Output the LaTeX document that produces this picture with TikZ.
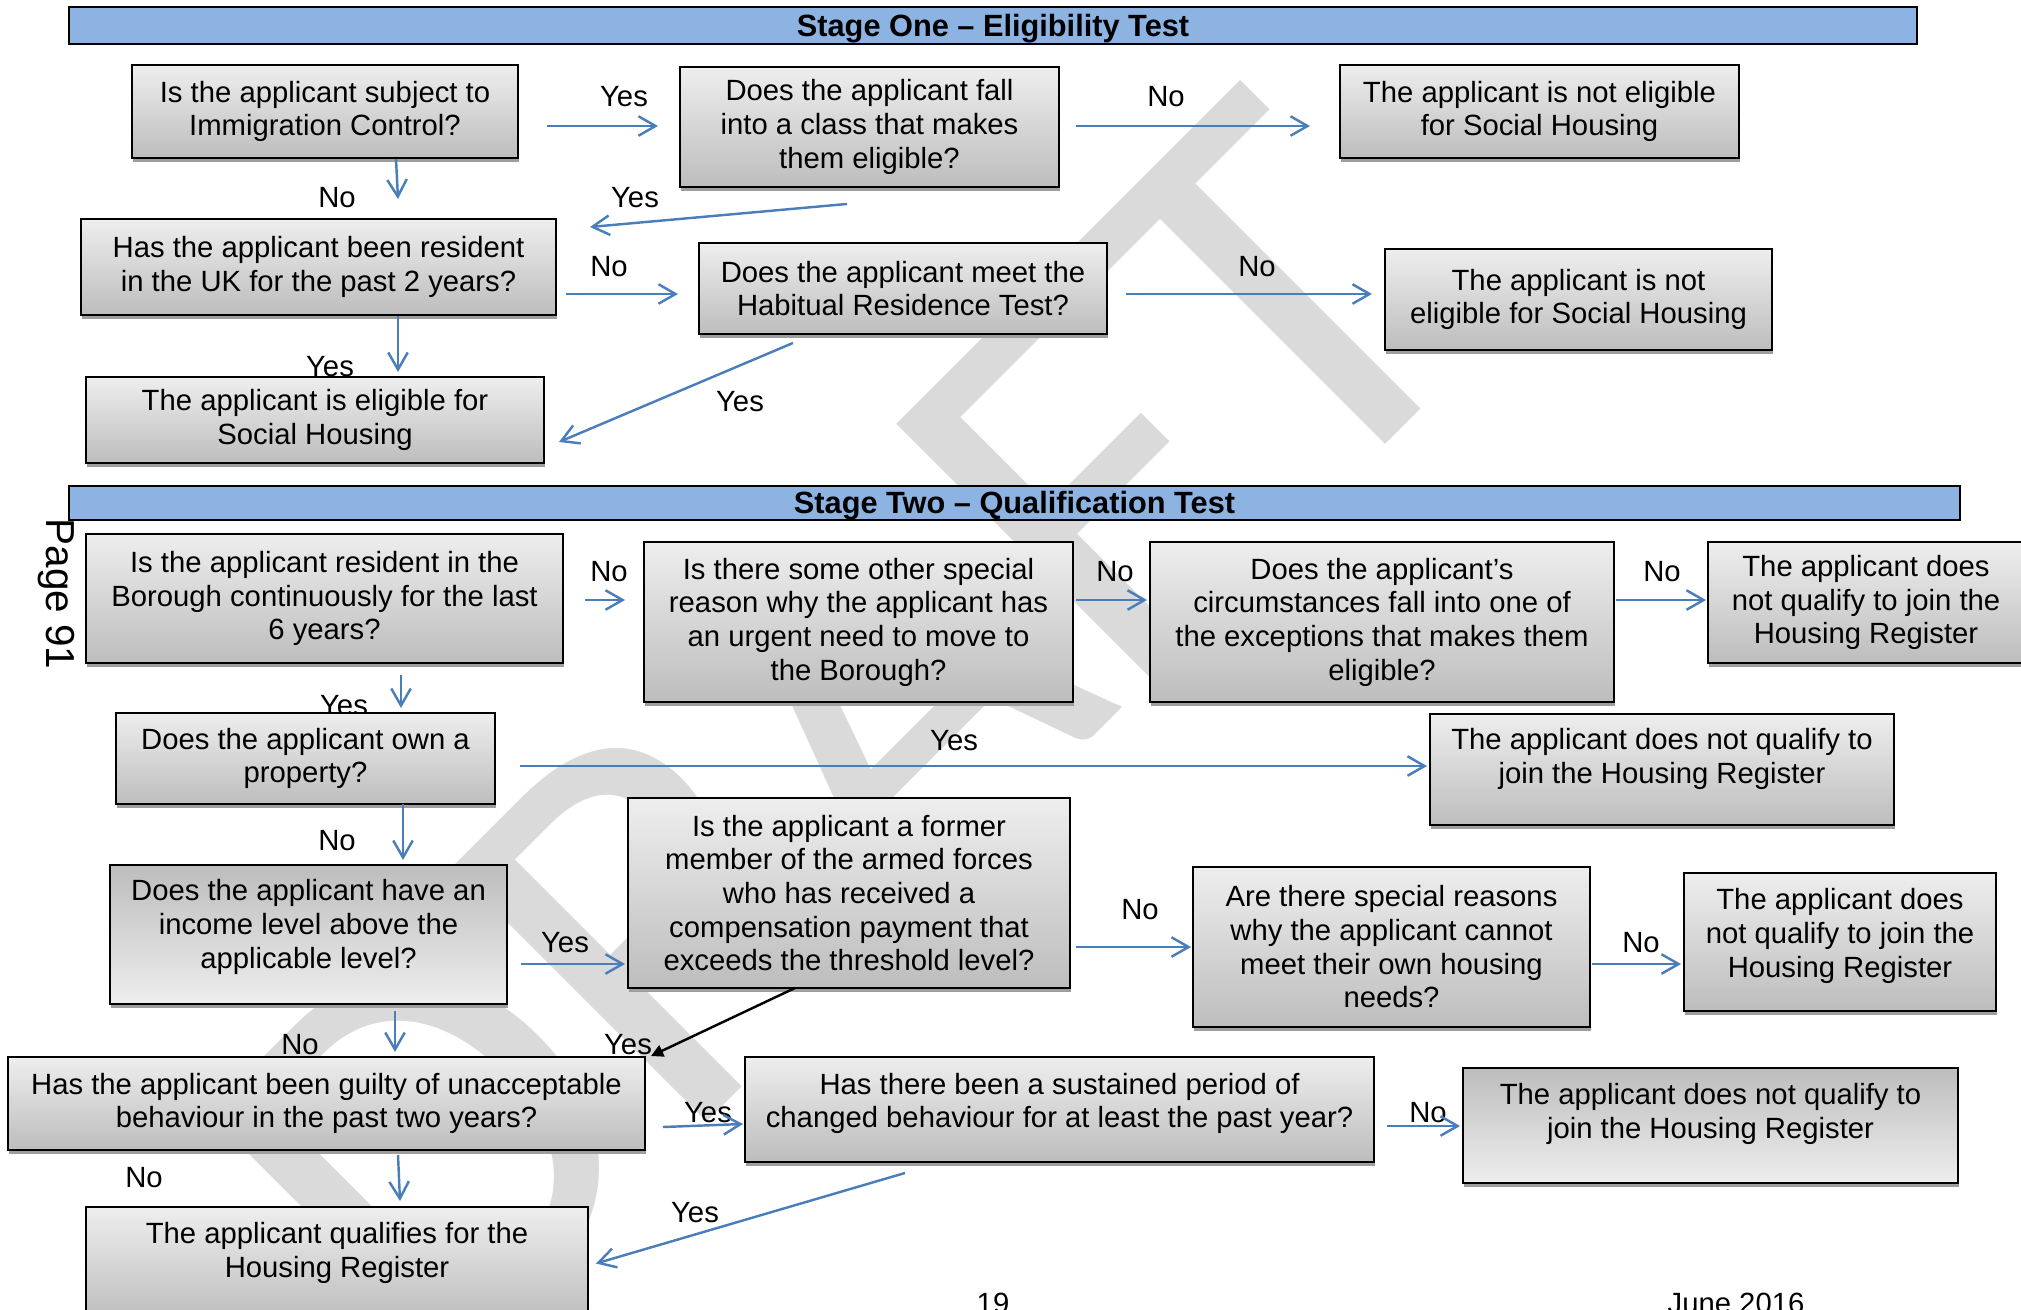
\documentclass[tikz,border=0pt]{standalone}
\usepackage{fontspec}
\setmainfont{Liberation Sans}
\newfontfamily\wmfont{Carlito}
\usepackage{pdfrender}
\usetikzlibrary{arrows.meta,calc,shadows}

\definecolor{boxtop}{HTML}{EEEEEE}
\definecolor{boxbot}{HTML}{BDBDBD}
\definecolor{hdrblue}{HTML}{8DB3E2}
\definecolor{arrblue}{HTML}{4A7EBB}
\definecolor{shade}{HTML}{9E9E9E}
\definecolor{wmgray}{HTML}{DADADA}

\tikzset{
  qbox/.style={draw=black, line width=0.8pt, top color=boxtop, bottom color=boxbot, align=center, inner sep=0pt,
    font=\fontsize{12}{13.8}\selectfont, drop shadow={shadow xshift=0.6pt, shadow yshift=-1.5pt, fill=shade, opacity=1}},
  qflip/.style={top color=boxbot, bottom color=boxtop},
  sz/.style 2 args={minimum width=#1*0.41pt, minimum height=#2*0.41pt},
  stage/.style={draw=black, line width=1.2pt, fill=hdrblue, font=\bfseries\fontsize{12.6}{14}\selectfont, inner sep=0pt, text depth=0.5pt},
  lbl/.style={font=\fontsize{12}{14}\selectfont, inner sep=0pt},
  arr/.style={draw=arrblue, line width=1pt, -{Straight Barb[length=7pt,width=8pt]}},
}

\begin{document}
\begin{tikzpicture}[x=0.41pt, y=-0.41pt]
  \clip (0,0) rectangle (2021,1309);
  \useasboundingbox (0,0) rectangle (2021,1309);
  \fill[white] (0,0) rectangle (2021,1309);

  \node[rotate=45, text=wmgray, inner sep=0pt] (WM) at (840,735)
    {\wmfont\fontsize{230}{230}\selectfont\textpdfrender{TextRenderingMode=Stroke, LineWidth=17, LineJoinStyle=Round, StrokeColor=wmgray}{DRAFT}};

  \node[rotate=-90, font=\fontsize{16.6}{18}\selectfont, inner sep=0pt] (PG) at (56,594) {Page 91};
  \node[lbl, anchor=base] (PN) at (993,1313) {19};
  \node[lbl, anchor=base] (DT) at (1736,1313) {June 2016};

  \node[lbl] (LA) at (624,97) {Yes};
  \node[lbl] (LB) at (337,198) {No};
  \node[lbl] (LC) at (635,198) {Yes};
  \node[lbl] (LD) at (1166,97) {No};
  \node[lbl] (LE) at (609,267) {No};
  \node[lbl] (LF) at (330,367) {Yes};
  \node[lbl] (LG) at (740,402) {Yes};
  \node[lbl] (LH) at (1257,267) {No};

  \node[lbl] (MA) at (609,572) {No};
  \node[lbl] (MB) at (1115,572) {No};
  \node[lbl] (MC) at (1662,572) {No};
  \node[lbl] (MD) at (344,706) {Yes};
  \node[lbl] (ME) at (954,741) {Yes};
  \node[lbl] (MF) at (337,841) {No};
  \node[lbl] (MG) at (565,943) {Yes};
  \node[lbl] (MH) at (1140,910) {No};
  \node[lbl] (MI) at (1641,943) {No};
  \node[lbl] (MJ) at (628,1045) {Yes};
  \node[lbl] (MK) at (300,1045) {No};
  \node[lbl] (ML) at (708,1113) {Yes};
  \node[lbl] (MM) at (1428,1113) {No};
  \node[lbl] (MN) at (144,1178) {No};
  \node[lbl] (MO) at (695,1213) {Yes};

  \node[stage, sz={1848}{37}] (S1) at (993,25.5) {Stage One – Eligibility Test};
  \node[stage, sz={1891}{34}] (S2) at (1014.5,503) {Stage Two – Qualification Test};

  \node[qbox, sz={386}{93}] (EA) at (325,111.5) {Is the applicant subject to\\Immigration Control?};
  \node[qbox, sz={379}{120}] (EB) at (869.5,127) {Does the applicant fall\\into a class that makes\\them eligible?};
  \node[qbox, sz={399}{93}] (EC) at (1539.5,111.5) {The applicant is not eligible\\for Social Housing};
  \node[qbox, sz={475}{96}] (ED) at (318.5,267) {Has the applicant been resident\\in the UK for the past 2 years?};
  \node[qbox, sz={408}{91}] (EE) at (903,288.5) {Does the applicant meet the\\Habitual Residence Test?};
  \node[qbox, sz={387}{101}] (EF) at (1578.5,299.5) {The applicant is not\\eligible for Social Housing};
  \node[qbox, sz={458}{86}] (EG) at (315,420) {The applicant is eligible for\\Social Housing};

  \node[qbox, sz={477}{129}] (QA) at (324.5,598.5) {Is the applicant resident in the\\Borough continuously for the last\\6 years?};
  \node[qbox, sz={429}{160}] (QB) at (858.5,622) {Is there some other special\\reason why the applicant has\\an urgent need to move to\\the Borough?};
  \node[qbox, sz={464}{160}] (QC) at (1382,622) {Does the applicant’s\\circumstances fall into one of\\the exceptions that makes them\\eligible?};
  \node[qbox, sz={316}{121}] (QD) at (1866,602.5) {The applicant does\\not qualify to join the\\Housing Register};
  \node[qbox, sz={379}{91}] (QE) at (305.5,758.5) {Does the applicant own a\\property?};
  \node[qbox, sz={464}{111}, text depth=11pt] (QF) at (1662,769.5) {The applicant does not qualify to\\join the Housing Register};
  \node[qbox, sz={442}{190}] (QG) at (849,893) {Is the applicant a former\\member of the armed forces\\who has received a\\compensation payment that\\exceeds the threshold level?};
  \node[qbox, qflip, sz={397}{139}, text depth=8.7pt] (QH) at (308.5,934.5) {Does the applicant have an\\income level above the\\applicable level?};
  \node[qbox, sz={397}{160}] (QI) at (1391.5,947) {Are there special reasons\\why the applicant cannot\\meet their own housing\\needs?};
  \node[qbox, sz={312}{138}, text depth=7.4pt] (QJ) at (1840,942) {The applicant does\\not qualify to join the\\Housing Register};
  \node[qbox, sz={637}{93}] (QK) at (326.5,1103.5) {Has the applicant been guilty of unacceptable\\behaviour in the past two years?};
  \node[qbox, sz={629}{105}, text depth=7.4pt] (QL) at (1059.5,1109.5) {Has there been a sustained period of\\changed behaviour for at least the past year?};
  \node[qbox, qflip, sz={495}{115}, text depth=11.9pt] (QM) at (1710.5,1125.5) {The applicant does not qualify to\\join the Housing Register};
  \node[qbox, sz={502}{113}, text depth=11pt] (QN) at (337,1263.5) {The applicant qualifies for the\\Housing Register};

  \draw[arr] ($(EA.east)+(28,14.5)$) -- ($(EB.west)+(-21,-1)$);
  \draw[arr] ($(EA.south)+(71,0)$) -- ($(ED.north)+(79.5,-19)$);
  \draw[arr] ($(EB.south)+(-22.5,16)$) -- ($(ED.east)+(33,-40)$);
  \draw[arr] ($(EB.east)+(16,-1)$) -- ($(EC.west)+(-29,14.5)$);
  \draw[arr] ($(ED.east)+(9,27)$) -- ($(EE.west)+(-20,5.5)$);
  \draw[arr] ($(ED.south)+(79.5,0)$) -- ($(EG.north)+(83,-4)$);
  \draw[arr] ($(EE.south)+(-110,8)$) -- ($(EG.east)+(14,22)$);
  \draw[arr] ($(EE.east)+(18,5.5)$) -- ($(EF.west)+(-12,-5.5)$);

  \draw[arr] ($(QA.east)+(21,1.5)$) -- ($(QB.west)+(-18,-22)$);
  \draw[arr] ($(QB.east)+(2,-22)$) -- ($(QC.west)+(-2,-22)$);
  \draw[arr] ($(QC.east)+(1,-22)$) -- ($(QD.west)+(-1,-2.5)$);
  \draw[arr] ($(QA.south)+(76.5,11)$) -- ($(QE.north)+(95.5,-4)$);
  \draw[arr] ($(QE.east)+(24,7.5)$) -- ($(QF.west)+(-2,-3.5)$);
  \draw[arr] ($(QE.south)+(97.5,-1)$) -- ($(QH.north)+(94.5,-4)$);
  \draw[arr] ($(QH.east)+(13,29.5)$) -- ($(QG.west)+(-2,71)$);
  \draw[arr] ($(QG.east)+(5,54)$) -- ($(QI.west)+(-1,0)$);
  \draw[arr] ($(QI.east)+(1,17)$) -- ($(QJ.west)+(-2,22)$);
  \draw[line width=1pt, -{Triangle[length=5pt,width=5pt]}] ($(QG.south)+(-54,-1)$) -- ($(QK.north east)+(5,0)$);
  \draw[arr] ($(QH.south)+(86.5,6)$) -- ($(QK.north)+(68.5,-4)$);
  \draw[arr] ($(QK.east)+(17,23.5)$) -- ($(QL.west)+(-1,14.5)$);
  \draw[arr] ($(QL.east)+(12,16.5)$) -- ($(QM.west)+(-2,0.5)$);
  \draw[arr] ($(QK.south)+(71.5,4)$) -- ($(QN.north)+(63,-5)$);
  \draw[arr] ($(QL.south)+(-154.5,10)$) -- ($(QN.east)+(7,0)$);
\end{tikzpicture}
\end{document}
